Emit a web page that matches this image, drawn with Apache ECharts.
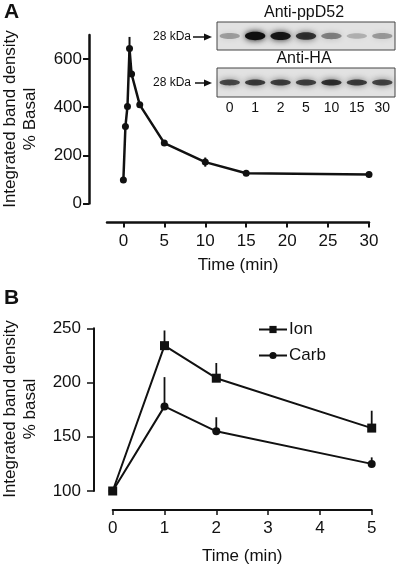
<!DOCTYPE html>
<html><head><meta charset="utf-8">
<script src="https://cdn.jsdelivr.net/npm/echarts@6/dist/echarts.min.js"></script>
<style>html,body{margin:0;padding:0;background:#fff}#c{width:400px;height:566px}</style>
</head><body><div id="c"></div>
<script>
// Panel A: time course (% basal)
const timeA = [0, 0.25, 0.5, 0.75, 1, 2, 5, 10, 15, 30];
const valA  = [98, 320, 403, 644, 538, 410, 251, 172, 126, 120];
const errA  = [0, 0, 0, 48, 0, 0, 8, 19, 8, 12];
const ticksAx = [0, 5, 10, 15, 20, 25, 30];
const ticksAy = [0, 200, 400, 600];
// Inset blot
const lanes = ['0', '1', '2', '5', '10', '15', '30'];
const ppD52 = [0.3, 1.0, 0.95, 0.78, 0.42, 0.22, 0.32];
const antiHA = [0.68, 0.74, 0.72, 0.72, 0.8, 0.74, 0.7];
// Panel B
const timeB = [0, 1, 2, 5];
const ionB  = [100, 234, 204, 158];
const ionErr = [0, 14, 14, 16];
const carbB = [100, 178, 155, 125];
const carbErr = [0, 27, 13, 6];

const FONT = "'Liberation Sans', Arial, sans-serif";
const K = '#111';

function errSeries(xIdx, yIdx, xs, ys, es, upOnly, w) {
  return {
    type: 'custom', xAxisIndex: xIdx, yAxisIndex: yIdx, z: 1, silent: true,
    data: xs.map((x, i) => [x, ys[i], es[i]]),
    renderItem: (p, api) => {
      const x = api.value(0), y = api.value(1), e = api.value(2);
      if (!e) return null;
      const top = api.coord([x, y + e]);
      const bot = api.coord([x, upOnly ? y : y - e]);
      return { type: 'line', shape: { x1: top[0], y1: top[1], x2: bot[0], y2: bot[1] },
               style: { stroke: K, lineWidth: w } };
    }
  };
}
function bandSeries(xIdx, yIdx, vals, ry) {
  return {
    type: 'custom', xAxisIndex: xIdx, yAxisIndex: yIdx, silent: true,
    data: vals.map((v, i) => [i, v]),
    renderItem: (p, api) => {
      const c = api.coord([api.value(0), 0.5]);
      const w = api.size([1, 0])[0];
      const a = api.value(1);
      return { type: 'ellipse', shape: { cx: c[0], cy: c[1], rx: w * 0.4, ry: ry * (0.7 + 0.5 * a) },
               style: { fill: 'rgba(15,15,15,' + a + ')', shadowBlur: 6, shadowColor: 'rgba(15,15,15,' + a + ')' } };
    }
  };
}

const axisTxt = { color: K, fontFamily: FONT, fontSize: 17 };
const chart = echarts.init(document.getElementById('c'));
chart.setOption({
  animation: false,
  textStyle: { fontFamily: FONT },
  grid: [
    { left: 107, right: 31, top: 35, bottom: 362.5 },
    { left: 217, right: 5, top: 22, height: 28, show: true, backgroundColor: '#e2e2e2', borderColor: '#444', borderWidth: 1 },
    { left: 217, right: 5, top: 68, height: 29, show: true, backgroundColor: '#e2e2e2', borderColor: '#444', borderWidth: 1 },
    { left: 112.7, right: 28.3, top: 328.3, bottom: 71.7 }
  ],
  xAxis: [
    { gridIndex: 0, type: 'value', min: -2, max: 30, offset: 19,
      axisLine: { show: true, onZero: false, lineStyle: { color: K, width: 2.5 } },
      axisTick: { show: true, length: 5, lineStyle: { color: K, width: 2 }, customValues: ticksAx },
      axisLabel: { ...axisTxt, margin: 10, customValues: ticksAx },
      splitLine: { show: false },
      name: 'Time (min)', nameLocation: 'middle', nameGap: 34, nameTextStyle: axisTxt },
    { gridIndex: 1, type: 'category', data: lanes, show: false },
    { gridIndex: 2, type: 'category', data: lanes,
      axisLine: { show: false }, axisTick: { show: false },
      axisLabel: { color: K, fontFamily: FONT, fontSize: 14, margin: 4 } },
    { gridIndex: 3, type: 'value', min: 0, max: 5, interval: 1, offset: 19,
      axisLine: { show: true, onZero: false, lineStyle: { color: K, width: 2 } },
      axisTick: { show: true, length: 5, lineStyle: { color: K, width: 1.5 } },
      axisLabel: { ...axisTxt, margin: 10 },
      splitLine: { show: false },
      name: 'Time (min)', nameLocation: 'middle', nameGap: 38, nameTextStyle: axisTxt }
  ],
  yAxis: [
    { gridIndex: 0, type: 'value', min: 0, max: 700, offset: 18,
      axisLine: { show: true, onZero: false, lineStyle: { color: K, width: 2.5 } },
      axisTick: { show: true, length: 6, lineStyle: { color: K, width: 2 }, customValues: ticksAy },
      axisLabel: { ...axisTxt, margin: 7, customValues: ticksAy },
      splitLine: { show: false } },
    { gridIndex: 1, type: 'value', min: 0, max: 1, show: false },
    { gridIndex: 2, type: 'value', min: 0, max: 1, show: false },
    { gridIndex: 3, type: 'value', min: 100, max: 250, interval: 50, offset: 18.7,
      axisLine: { show: true, onZero: false, lineStyle: { color: K, width: 2 } },
      axisTick: { show: true, length: 7, lineStyle: { color: K, width: 1.5 } },
      axisLabel: { ...axisTxt, margin: 13 },
      splitLine: { show: false } }
  ],
  legend: {
    orient: 'vertical', left: 253, top: 316, itemWidth: 28, itemHeight: 9, itemGap: 9,
    textStyle: { ...axisTxt, padding: [0, 0, 0, -3] },
    data: ['Ion', 'Carb']
  },
  graphic: [
    { type: 'text', left: 4, top: 2, style: { text: 'A', font: 'bold 21px ' + FONT, fill: K } },
    { type: 'text', left: 4, top: 288, style: { text: 'B', font: 'bold 21px ' + FONT, fill: K } },
    { type: 'text', x: 10, y: 119, rotation: Math.PI / 2, style: { text: 'Integrated band density', font: '17px ' + FONT, fill: K, align: 'center', verticalAlign: 'middle' } },
    { type: 'text', x: 30, y: 119, rotation: Math.PI / 2, style: { text: '% Basal', font: '17px ' + FONT, fill: K, align: 'center', verticalAlign: 'middle' } },
    { type: 'text', x: 10, y: 409, rotation: Math.PI / 2, style: { text: 'Integrated band density', font: '17px ' + FONT, fill: K, align: 'center', verticalAlign: 'middle' } },
    { type: 'text', x: 30, y: 409, rotation: Math.PI / 2, style: { text: '% basal', font: '17px ' + FONT, fill: K, align: 'center', verticalAlign: 'middle' } },
    { type: 'text', x: 304, y: 13, style: { text: 'Anti-ppD52', font: '16px ' + FONT, fill: K, align: 'center', verticalAlign: 'middle' } },
    { type: 'text', x: 304, y: 59, style: { text: 'Anti-HA', font: '16px ' + FONT, fill: K, align: 'center', verticalAlign: 'middle' } },
    { type: 'text', x: 153, y: 37, style: { text: '28 kDa', font: '12px ' + FONT, fill: K, verticalAlign: 'middle' } },
    { type: 'text', x: 153, y: 83, style: { text: '28 kDa', font: '12px ' + FONT, fill: K, verticalAlign: 'middle' } },
    { type: 'line', shape: { x1: 193, y1: 37, x2: 208, y2: 37 }, style: { stroke: K, lineWidth: 1.5 } },
    { type: 'polygon', shape: { points: [[212, 37], [204, 33.5], [204, 40.5]] }, style: { fill: K } },
    { type: 'line', shape: { x1: 195, y1: 83, x2: 208, y2: 83 }, style: { stroke: K, lineWidth: 1.5 } },
    { type: 'polygon', shape: { points: [[212, 83], [204, 79.5], [204, 86.5]] }, style: { fill: K } }
  ],
  series: [
    errSeries(0, 0, timeA, valA, errA, false, 2),
    { type: 'line', xAxisIndex: 0, yAxisIndex: 0, data: timeA.map((x, i) => [x, valA[i]]),
      symbol: 'circle', symbolSize: 7, lineStyle: { color: K, width: 2.5 }, itemStyle: { color: K }, z: 3 },
    bandSeries(1, 1, ppD52, 3.5),
    bandSeries(2, 2, antiHA, 2.8),
    errSeries(3, 3, timeB, ionB, ionErr, true, 1.8),
    errSeries(3, 3, timeB, carbB, carbErr, true, 1.8),
    { name: 'Ion', type: 'line', xAxisIndex: 3, yAxisIndex: 3, data: timeB.map((x, i) => [x, ionB[i]]),
      symbol: 'rect', symbolSize: 9, lineStyle: { color: K, width: 2 }, itemStyle: { color: K }, z: 3 },
    { name: 'Carb', type: 'line', xAxisIndex: 3, yAxisIndex: 3, data: timeB.map((x, i) => [x, carbB[i]]),
      symbol: 'circle', symbolSize: 8, lineStyle: { color: K, width: 2 }, itemStyle: { color: K }, z: 3 }
  ]
});
</script></body></html>
